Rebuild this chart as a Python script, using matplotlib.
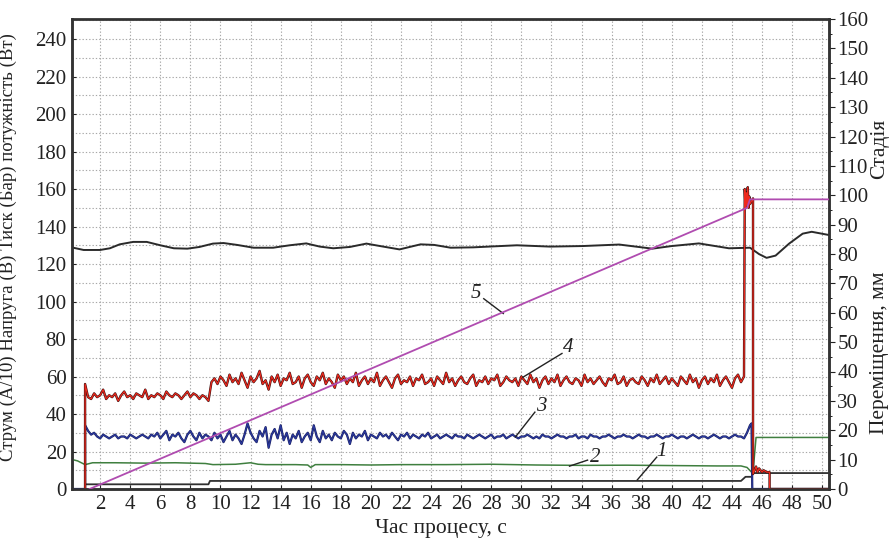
import numpy as np
import matplotlib
matplotlib.use("Agg")
import matplotlib.pyplot as plt

plt.rcParams['font.family'] = ['Liberation Serif', 'DejaVu Serif']

# ---- data ----
# 4: red, sampled every 0.2 s
red_a = [56, 49, 48, 51, 49, 50, 53, 48, 50, 49, 51, 47, 50, 52, 49, 50, 48, 51, 50, 49, 53,
         48, 50, 49, 51, 50, 48, 52, 50, 49, 51, 50, 48, 50, 52, 49, 51, 50, 48, 50, 49, 47]
red_b = [57, 59, 56, 60, 58, 55, 61, 57, 59, 56, 62, 58, 54, 60, 57, 59, 63, 56, 58, 53,
         60, 57, 61, 55, 59, 58, 62, 56, 57, 60, 54, 59, 61, 57, 55, 60, 58, 62, 56, 59,
         57, 54, 61, 58, 60, 56, 59, 57, 62, 55,
         58, 60, 56, 59, 57, 62, 55, 58, 60, 57, 54, 59, 61, 56, 58, 57, 60, 55, 59, 58,
         61, 56, 57, 59, 55, 60, 58, 56, 62, 57, 59, 55, 58, 60, 57, 56, 59, 61, 55, 58,
         57, 60, 56, 59, 58, 61, 55, 57, 60, 58,
         57, 59, 55, 60, 58, 56, 61, 57, 59, 54, 58, 60, 56, 59, 57, 61, 55, 58, 60, 57,
         56, 59, 58, 55, 61, 57, 59, 56, 58, 60, 57, 55, 59, 58, 61, 56, 57, 60, 55, 58,
         59, 57, 56, 60, 58, 55, 59, 57, 61, 56,
         58, 60, 56, 59, 57, 55, 60, 58, 56, 61, 57, 59, 54, 58, 60, 56, 59, 57, 61, 55,
         58, 60, 57, 54, 59, 61, 57, 60]
red_end_t = [44.85, 44.9, 44.95, 45.0, 45.05, 45.1, 45.15, 45.2, 45.4, 45.4, 45.5, 45.6, 45.7,
             45.8, 45.9, 46.0, 46.1, 46.3, 46.5, 46.5, 50.5]
red_end_v = [160, 150, 158, 151, 161, 150, 156, 152, 155, 8, 10, 12, 9, 11, 10, 9, 10, 9, 9, 0, 0]

# 3: blue, sampled every 0.2 s
blue_v = [34, 31, 29, 30, 28, 27, 29, 28, 27, 28, 29, 27, 28, 28, 27, 29, 28, 27, 28, 29, 28,
          27, 29, 28, 30, 27, 29, 31, 26, 29, 28, 30, 27, 25, 29, 31, 28, 26, 30, 27, 29,
          28, 26, 30, 27, 29, 25, 28, 31, 26, 29, 27, 24, 29, 35, 30, 27, 25, 31, 28, 33,
          22, 29, 32, 27, 34, 26, 30, 24, 29, 27, 31, 25, 28, 30, 26, 34, 28, 25, 31, 27,
          29, 26, 30, 28, 27, 31, 29, 24, 30, 27, 29, 28, 31, 26, 29, 28, 27, 30, 28, 29,
          27, 30, 28, 26, 29, 28, 30, 27, 29, 28, 27, 29, 28, 30, 27, 28, 29, 27, 28, 29,
          28, 27, 29, 28, 28, 27, 29, 28, 27, 28,
          29, 28, 27, 28, 29, 27, 28, 28, 29, 27,
          28, 29, 28, 27, 28, 28, 29, 28, 27, 28,
          27, 29, 28, 28, 27, 28, 29, 28, 28, 27,
          28, 28, 29, 27, 28, 28, 27, 29, 28, 28,
          27, 28, 28, 29, 28, 27, 28, 28, 29, 28,
          28, 27, 28, 29, 28, 28, 27, 28, 28, 29,
          28, 27, 28, 28, 29, 28, 27, 28, 28, 27,
          28, 29, 28, 27, 28, 28, 27, 28, 29, 28,
          27, 28, 28, 27, 28, 29, 28, 28, 27]
blue_end_t = [45.0, 45.2, 45.3, 45.35, 50.5]
blue_end_v = [30, 34, 35, 0, 0]

# 2: green
green_t = [0, 0.5, 1.0, 1.5, 3, 5, 7, 9, 9.5, 11, 12, 12.5, 13, 15, 15.8, 16, 16.3, 18, 20, 22,
           25, 28, 31, 34, 37, 40, 43, 44.6, 45.0, 45.3, 45.4, 45.6, 50.5]
green_v = [16, 15, 13, 14, 14, 13.8, 14, 13.6, 13, 13.2, 14, 13.2, 13, 13, 12.8, 11.5, 13, 13,
           12.8, 13, 13, 13.2, 12.8, 12.6, 12.7, 12.5, 12.3, 12.3, 11.5, 9, 9, 27.5, 27.5]

# 1: dark grey steps
s1_t = [0, 1.0, 1.0, 9.2, 9.3, 44.6, 44.9, 45.3, 45.4, 50.5]
s1_v = [0, 0, 2.5, 2.5, 4.3, 4.3, 6.5, 6.5, 8.5, 8.5]

# 5: purple, right axis (mm)
s5_t = [1.3, 45.0, 45.2, 50.5]
s5_v = [0, 95.7, 98.6, 98.6]

# black wavy line
blk_t = [0.1, 0.9, 2.0, 2.65, 3.3, 4.2, 5.1, 6.0, 6.9, 7.8, 8.6, 9.5, 10.2, 11.1, 12.2, 13.5,
         14.6, 15.7, 16.6, 17.5, 18.6, 19.7, 20.6, 21.9, 23.3, 24.2, 25.3, 26.8, 29.7, 31.9,
         34.1, 36.5, 38.7, 40.0, 41.8, 43.8, 45.2, 45.8, 46.3, 46.9, 47.8, 48.7, 49.3, 50.5]
blk_v = [128.9, 127.5, 127.5, 128.4, 130.5, 131.8, 131.8, 130, 128.4, 128.2, 129.1, 130.9,
         131.2, 130.2, 128.7, 128.7, 130, 131, 129.3, 128.4, 129.1, 130.9, 129.6, 127.8, 130.5,
         130.2, 128.7, 128.9, 130, 129.3, 129.6, 130.4, 128.2, 129.6, 131, 128.4, 128.7,
         125.3, 123.3, 124.5, 130.9, 136.2, 137.2, 135.4]

x_ticks = list(range(2, 51, 2))
left_ticks = list(range(0, 241, 20))
right_ticks = list(range(0, 161, 10))

# ---- assemble sampled series ----
red_t = np.concatenate([[1.0], 1.0 + 0.2 * np.arange(len(red_a)),
                        1.0 + 0.2 * len(red_a) + 0.2 * np.arange(len(red_b)), red_end_t])
red_y = np.concatenate([[0], red_a, red_b, red_end_v])
blue_t = np.concatenate([[0, 1.0], 1.0 + 0.2 * np.arange(len(blue_v)), blue_end_t])
blue_y = np.concatenate([[0, 0], blue_v, blue_end_v])

fig = plt.figure(figsize=(8.9, 5.39), dpi=100)
ax = fig.add_axes([72 / 890, 1 - 489 / 539, 757 / 890, 470 / 539])
ax2 = ax.twinx()

ax.plot(blk_t, blk_v, color='#2a2a2a', lw=1.4, zorder=3)
ax.plot(s1_t, s1_v, color='#303030', lw=1.3, zorder=3)
ax.plot(green_t, green_v, color='#3f7f3f', lw=1.1, zorder=3)
ax.plot(blue_t, blue_y, color='#1a1f5e', lw=1.6, zorder=3)
ax.plot(blue_t, blue_y, color='#2b3aa0', lw=0.8, zorder=3)
ax.plot(red_t, red_y, color='#3a1010', lw=1.7, zorder=4)
ax.plot(red_t, red_y, color='#ee2a1e', lw=0.9, zorder=4)
ax2.plot(s5_t, s5_v, color='#b04cb0', lw=1.3, zorder=5)

ax.set_xlim(0.13, 50.45)
ax.set_ylim(0, 250.7)
ax2.set_ylim(0, 160)

ax.set_xticks(x_ticks)
ax.set_yticks(left_ticks)
ax.set_yticks(range(10, 251, 10), minor=True)
ax2.set_yticks(right_ticks)
ax2.set_yticks(range(5, 160, 10), minor=True)

grid_kw = dict(color='#a8a8a8', linestyle=(0, (1.2, 1.8)), linewidth=0.8)
ax.grid(True, which='major', axis='x', **grid_kw)
ax.grid(True, which='both', axis='y', **grid_kw)
ax.set_axisbelow(True)

ax.tick_params(axis='both', which='major', labelsize=15, colors='#222222', length=3,
               direction='in', pad=4)
ax.tick_params(axis='y', which='minor', length=0)
ax2.tick_params(axis='y', which='major', labelsize=15, colors='#222222', length=4,
                direction='out', pad=2)
ax2.tick_params(axis='y', which='minor', length=2, direction='out')

for a in (ax, ax2):
    for sp in a.spines.values():
        sp.set_linewidth(1.8)
        sp.set_color('#333333')
ax.spines['top'].set_color('#666666')

ax.set_ylabel('Струм (А/10) Напруга (В) Тиск (Бар) потужність (Вт)', fontsize=13.5,
              color='#222222')
ax.yaxis.set_label_coords(-0.072, 0.515)
fig.text(0.495, 0.02, 'Час процесу, с', fontsize=15.5, color='#222222',
         ha='center', va='center')
fig.text(0.988, 0.723, 'Стадія', fontsize=15.5, color='#222222', rotation=90,
         ha='center', va='center')
fig.text(0.988, 0.345, 'Переміщення, мм', fontsize=15.5, color='#222222', rotation=90,
         ha='center', va='center')

# curve numbers with leader lines (left-axis units)
labels = [('5', 27.0, 104.5, 27.5, 101.5, 28.8, 93.6),
          ('4', 33.1, 75.5, 32.7, 72.3, 30.1, 59.6),
          ('3', 31.3, 44.0, 30.9, 41.0, 29.6, 27.7),
          ('2', 34.9, 17.0, 34.4, 15.4, 33.2, 12.2),
          ('1', 39.3, 20.0, 39.0, 17.0, 37.7, 4.8)]
for txt, tx, ty, x0, y0, x1, y1 in labels:
    ax.text(tx, ty, txt, fontsize=15, style='italic', color='#222222',
            ha='center', va='center', zorder=6)
    ax.plot([x0, x1], [y0, y1], color='#222222', lw=1.0, zorder=6)

fig.savefig('out.png', dpi=100)
